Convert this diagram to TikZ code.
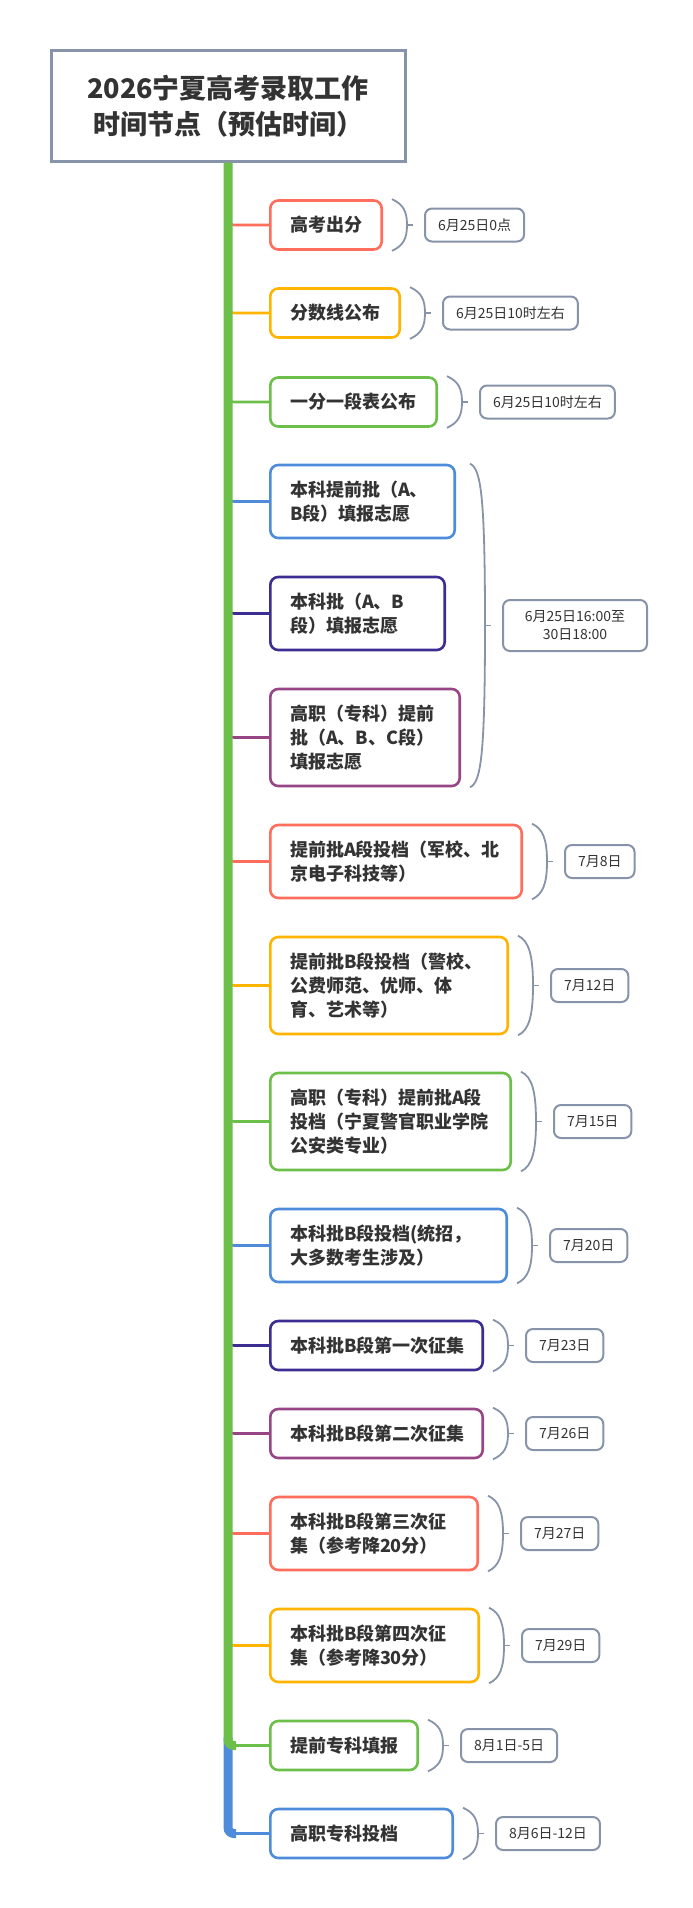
\documentclass[tikz,border=0pt]{standalone}
\usepackage{fontspec}
\setmainfont{Noto Sans CJK SC}
\usetikzlibrary{positioning,calc}
\definecolor{ink}{HTML}{333333}
\definecolor{slate}{HTML}{8793A8}
\definecolor{coral}{HTML}{FF6D5C}
\definecolor{amber}{HTML}{FFB400}
\definecolor{leaf}{HTML}{6CC04A}
\definecolor{sky}{HTML}{4E8CDB}
\definecolor{indigo}{HTML}{3B2D91}
\definecolor{plum}{HTML}{984586}
\tikzset{
  head/.style  ={draw=slate, line width=3pt, fill=white, align=center, minimum width=354, minimum height=110, text=ink, font=\bfseries\fontsize{27}{36}\selectfont},
  item/.style  ={draw=#1, line width=2.6pt, fill=white, rounded corners=8pt, anchor=west, align=left, inner xsep=19.7pt, inner ysep=0pt, text=ink, font=\bfseries\fontsize{18}{24}\selectfont},
  date/.style  ={draw=slate, line width=2pt, fill=white, rounded corners=7pt, align=center, inner xsep=13pt, inner ysep=0pt, minimum height=33, text=ink, font=\fontsize{14}{17.7}\selectfont},
  br/.style    ={draw=#1, line width=2.6pt, rounded corners=6pt},
  trunk/.style ={draw=#1, line width=9pt, rounded corners=6pt},
  summ/.style  ={draw=slate, line width=1.8pt},
}
\newcommand{\sumbrace}[3]{%
  \coordinate (bt) at ($(#1.north -| #2.east)+(9,0)$);
  \coordinate (bb) at ($(#2.south east)+(9,0)$);
  \coordinate (bm) at ($(bt)!.5!(bb)+(15,0)$);
  \draw[summ] (bt) .. controls +(11,5) and +(0,-#3) .. (bm) .. controls +(0,#3) and +(11,-5) .. (bb);
  \draw[summ] (bm) -- +(6,0);}

\begin{document}
\begin{tikzpicture}[x=1pt,y=-1pt]
  \useasboundingbox[fill=white] (0,0) rectangle (693,1908);
  \node[head] (top) at (228,106) {2026宁夏高考录取工作\\时间节点（预估时间）};
  \coordinate (root) at (top.south);

  \node[item=coral,  text width=72,  minimum height=49] (n1)  at (269,225)    {高考出分};
  \node[item=amber,  text width=90,  minimum height=49] (n2)  at (269,313)    {分数线公布};
  \node[item=leaf,   text width=127, minimum height=49] (n3)  at (269,402)    {一分一段表公布};
  \node[item=sky,    text width=145, minimum height=73] (n4)  at (269,501.5)  {本科提前批（A、\\B段）填报志愿};
  \node[item=indigo, text width=135, minimum height=73] (n5)  at (269,613.5)  {本科批（A、B\\段）填报志愿};
  \node[item=plum,   text width=150, minimum height=97] (n6)  at (269,737.5)  {高职（专科）提前\\批（A、B、C段）\\填报志愿};
  \node[item=coral,  text width=212, minimum height=73] (n7)  at (269,861.5)  {提前批A段投档（军校、北\\京电子科技等）};
  \node[item=amber,  text width=198, minimum height=97] (n8)  at (269,985.5)  {提前批B段投档（警校、\\公费师范、优师、体\\育、艺术等）};
  \node[item=leaf,   text width=201, minimum height=97] (n9)  at (269,1121.5) {高职（专科）提前批A段\\投档（宁夏警官职业学院\\公安类专业）};
  \node[item=sky,    text width=197, minimum height=73] (n10) at (269,1245.5) {本科批B段投档(统招，\\大多数考生涉及）};
  \node[item=indigo, text width=173, minimum height=49] (n11) at (269,1345.5) {本科批B段第一次征集};
  \node[item=plum,   text width=173, minimum height=49] (n12) at (269,1433.5) {本科批B段第二次征集};
  \node[item=coral,  text width=168, minimum height=73] (n13) at (269,1533.5) {本科批B段第三次征\\集（参考降20分）};
  \node[item=amber,  text width=169, minimum height=73] (n14) at (269,1645.5) {本科批B段第四次征\\集（参考降30分）};
  \node[item=leaf,   text width=108, minimum height=49] (n15) at (269,1745.5) {提前专科填报};
  \node[item=sky,    text width=143, minimum height=49] (n16) at (269,1833.5) {高职专科投档};

  \node[date, right=41pt of n1]  (d1)  {6月25日0点};
  \node[date, right=41pt of n2]  (d2)  {6月25日10时左右};
  \node[date, right=41pt of n3]  (d3)  {6月25日10时左右};
  \node[date, minimum height=51, minimum width=144, anchor=west] (d4) at ($(n4.north -| n6.east)!.5!(n6.south east)+(41,0)$) {6月25日16:00至\\30日18:00};
  \node[date, right=41pt of n7]  (d7)  {7月8日};
  \node[date, right=41pt of n8]  (d8)  {7月12日};
  \node[date, right=41pt of n9]  (d9)  {7月15日};
  \node[date, right=41pt of n10] (d10) {7月20日};
  \node[date, right=41pt of n11] (d11) {7月23日};
  \node[date, right=41pt of n12] (d12) {7月26日};
  \node[date, right=41pt of n13] (d13) {7月27日};
  \node[date, right=41pt of n14] (d14) {7月29日};
  \node[date, right=41pt of n15] (d15) {8月1日-5日};
  \node[date, right=41pt of n16] (d16) {8月6日-12日};

  \sumbrace{n1}{n1}{14}
  \sumbrace{n2}{n2}{14}
  \sumbrace{n3}{n3}{14}
  \sumbrace{n4}{n6}{130}
  \sumbrace{n7}{n7}{22}
  \sumbrace{n8}{n8}{30}
  \sumbrace{n9}{n9}{30}
  \sumbrace{n10}{n10}{22}
  \sumbrace{n11}{n11}{14}
  \sumbrace{n12}{n12}{14}
  \sumbrace{n13}{n13}{22}
  \sumbrace{n14}{n14}{22}
  \sumbrace{n15}{n15}{14}
  \sumbrace{n16}{n16}{14}

  \draw[br=coral]  ($(n1.west -| root)+(0,-10)$) |- (n1.west);
  \draw[br=amber]  ($(n2.west -| root)+(0,-10)$) |- (n2.west);
  \draw[br=leaf]   ($(n3.west -| root)+(0,-10)$) |- (n3.west);
  \draw[br=sky]    ($(n4.west -| root)+(0,-10)$) |- (n4.west);
  \draw[br=indigo] ($(n5.west -| root)+(0,-10)$) |- (n5.west);
  \draw[br=plum]   ($(n6.west -| root)+(0,-10)$) |- (n6.west);
  \draw[br=coral]  ($(n7.west -| root)+(0,-10)$) |- (n7.west);
  \draw[br=amber]  ($(n8.west -| root)+(0,-10)$) |- (n8.west);
  \draw[br=leaf]   ($(n9.west -| root)+(0,-10)$) |- (n9.west);
  \draw[br=sky]    ($(n10.west -| root)+(0,-10)$) |- (n10.west);
  \draw[br=indigo] ($(n11.west -| root)+(0,-10)$) |- (n11.west);
  \draw[br=plum]   ($(n12.west -| root)+(0,-10)$) |- (n12.west);
  \draw[br=coral]  ($(n13.west -| root)+(0,-10)$) |- (n13.west);
  \draw[br=amber]  ($(n14.west -| root)+(0,-10)$) |- (n14.west);
  \draw[br=leaf]   (n15.west -| root) -- (n15.west);
  \draw[br=sky]    (n16.west -| root) -- (n16.west);

  \draw[trunk=sky]  ($(n15.west -| root)+(0,-8)$) |- ($(n16.west -| root)+(8,0)$);
  \draw[trunk=leaf] (root) |- ($(n15.west -| root)+(8,0)$);
\end{tikzpicture}
\end{document}
